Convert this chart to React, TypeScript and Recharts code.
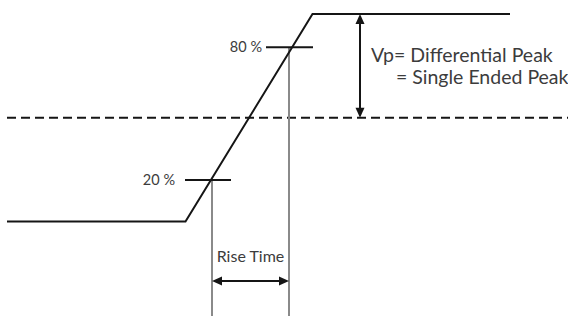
import { LineChart, Line, XAxis, YAxis, ReferenceLine } from 'recharts'

// waveform (time in arbitrary units, level in % of peak)
const waveTime = [0.14, 3.71, 6.25, 10.2]
const waveLevel = [0, 0, 100, 100]

// threshold marks
const thresholdLabels = ['20 %', '80 %']
const thresholdLevels = [20, 84]
const thresholdStart = [3.7, 5.32]
const thresholdEnd = [4.62, 6.26]
const crossingTimes = [4.24, 5.78]
const labelGap = [10, 4]

const midLevel = 50
const midStart = 0.14
const vpTime = 7.2
const riseArrowLevel = -28.7
const vpLines = ['Vp= Differential Peak', '= Single Ended Peak']

const timeDomain = [0, 11.36]
const levelDomain = [-45.54, 106.75]

const data = waveTime.map((t, i) => ({ t, v: waveLevel[i] }))

const INK = '#151515'
const TEXT = '#3c3c3c'

const arrowShape = (props: any) => {
  const { x1, y1, x2, y2 } = props
  const dx = x2 - x1
  const dy = y2 - y1
  const len = Math.sqrt(dx * dx + dy * dy) || 1
  const ux = dx / len
  const uy = dy / len
  const head = 10
  const half = 4.5
  const tri = (px: number, py: number, dirx: number, diry: number) => {
    const bx = px - dirx * head
    const by = py - diry * head
    return `${px},${py} ${bx - diry * half},${by + dirx * half} ${bx + diry * half},${by - dirx * half}`
  }
  return (
    <g>
      <line x1={x1 + ux * 6} y1={y1 + uy * 6} x2={x2 - ux * 6} y2={y2 - uy * 6} stroke={INK} strokeWidth={2} />
      <polygon points={tri(x2, y2, ux, uy)} fill={INK} />
      <polygon points={tri(x1, y1, -ux, -uy)} fill={INK} />
    </g>
  )
}

const VpLabel = (props: any) => {
  const { viewBox } = props
  const x = viewBox.x
  const y = viewBox.y
  return (
    <text fill={TEXT} fontSize={19.5} fontFamily="Lato">
      <tspan x={x + 11} y={y + 48}>{vpLines[0]}</tspan>
      <tspan x={x + 36} y={y + 70}>{vpLines[1]}</tspan>
    </text>
  )
}

const App = () => {
  return (
    <div style={{ width: 568, height: 316, background: '#fff', overflow: 'hidden' }}>
      <style>{'body{margin:0}'}</style>
      <LineChart
        width={568}
        height={316}
        data={data}
        margin={{ top: 0, right: 0, bottom: 0, left: 0 }}
        style={{ fontFamily: 'Lato' }}
      >
        <XAxis type="number" dataKey="t" domain={timeDomain} hide />
        <YAxis type="number" domain={levelDomain} hide />

        <ReferenceLine
          segment={[{ x: midStart, y: midLevel }, { x: timeDomain[1], y: midLevel }]}
          stroke={INK}
          strokeWidth={2}
          strokeDasharray="9 5"
          ifOverflow="visible"
        />

        {crossingTimes.map((t, i) => (
          <ReferenceLine
            key={`drop-${i}`}
            segment={[{ x: t, y: thresholdLevels[i] }, { x: t, y: levelDomain[0] }]}
            stroke="#8a8a8a"
            strokeWidth={2}
            ifOverflow="visible"
          />
        ))}

        {thresholdLevels.map((lv, i) => (
          <ReferenceLine
            key={`th-${i}`}
            segment={[{ x: thresholdStart[i], y: lv }, { x: thresholdEnd[i], y: lv }]}
            stroke={INK}
            strokeWidth={2}
            ifOverflow="visible"
            label={{ value: thresholdLabels[i], position: 'left', offset: labelGap[i], fill: TEXT, fontSize: 14.5 }}
          />
        ))}

        <Line
          type="linear"
          dataKey="v"
          stroke={INK}
          strokeWidth={2}
          dot={false}
          activeDot={false}
          isAnimationActive={false}
        />

        <ReferenceLine
          segment={[{ x: vpTime, y: 100 }, { x: vpTime, y: midLevel }]}
          shape={arrowShape}
          ifOverflow="visible"
          label={<VpLabel />}
        />

        <ReferenceLine
          segment={[{ x: crossingTimes[0], y: riseArrowLevel }, { x: crossingTimes[1], y: riseArrowLevel }]}
          shape={arrowShape}
          ifOverflow="visible"
          label={{ value: 'Rise Time', position: 'top', offset: 19, fill: TEXT, fontSize: 16 }}
        />
      </LineChart>
    </div>
  )
}

export default App
